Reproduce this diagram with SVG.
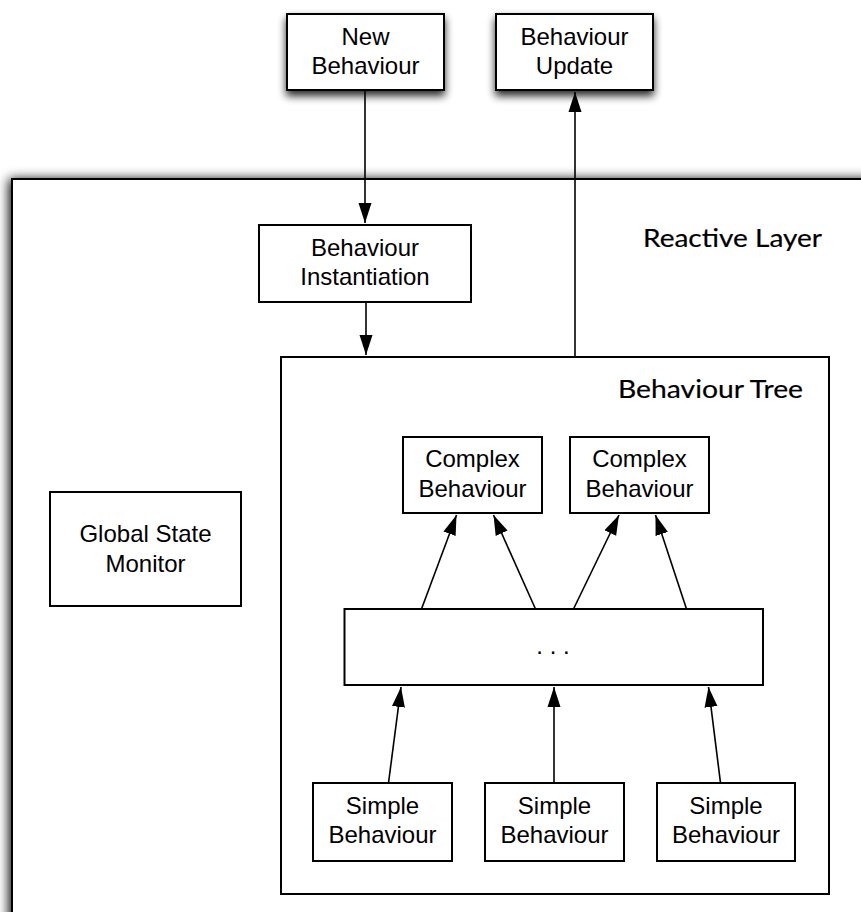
<svg xmlns="http://www.w3.org/2000/svg" width="861" height="912" viewBox="0 0 861 912">
  <style>
    .box { fill: #ffffff; stroke: #000000; stroke-width: 2; }
    .lbl { font-family: "Liberation Sans", Arial, sans-serif; font-size: 24px; fill: #000000; text-anchor: middle; }
    .title { font-family: Lato, "Open Sans", sans-serif; font-size: 25px; fill: #000000; stroke: #000000; stroke-width: 0.2; }
    .conn { stroke: #000000; stroke-width: 1.6; fill: none; marker-end: url(#arrow); }
  </style>
  <defs>
    <filter id="shadow" x="-20%" y="-20%" width="140%" height="160%">
      <feGaussianBlur in="SourceAlpha" stdDeviation="4.5"/>
      <feOffset dx="0" dy="5"/>
      <feComponentTransfer><feFuncA type="linear" slope="0.85"/></feComponentTransfer>
      <feMerge><feMergeNode/><feMergeNode in="SourceGraphic"/></feMerge>
    </filter>
    <filter id="shadow-wide" x="-5%" y="-5%" width="110%" height="110%">
      <feGaussianBlur in="SourceAlpha" stdDeviation="6"/>
      <feOffset dx="-2" dy="1"/>
      <feComponentTransfer><feFuncA type="linear" slope="1"/></feComponentTransfer>
      <feMerge><feMergeNode/><feMergeNode in="SourceGraphic"/></feMerge>
    </filter>
    <marker id="arrow" markerUnits="userSpaceOnUse" markerWidth="20" markerHeight="14" refX="20" refY="7" orient="auto">
      <path d="M0,0.5 L20,7 L0,13.5 z" fill="#000000"/>
    </marker>
  </defs>

  <rect width="861" height="912" fill="#ffffff"/>

  <!-- outer reactive layer container -->
  <g id="reactive-layer">
    <rect class="box" x="12" y="179" width="900" height="800" filter="url(#shadow-wide)"/>
    <text class="title" x="643" y="247" textLength="179" lengthAdjust="spacingAndGlyphs">Reactive Layer</text>
  </g>

  <!-- inputs / outputs above the layer -->
  <g id="new-behaviour">
    <rect class="box" x="287" y="14" width="157" height="76" filter="url(#shadow)"/>
    <text class="lbl" x="365.5" y="45">New</text>
    <text class="lbl" x="365.5" y="74">Behaviour</text>
  </g>
  <g id="behaviour-update">
    <rect class="box" x="496" y="14" width="157" height="76" filter="url(#shadow)"/>
    <text class="lbl" x="574.5" y="45">Behaviour</text>
    <text class="lbl" x="574.5" y="74">Update</text>
  </g>

  <g id="behaviour-instantiation">
    <rect class="box" x="259" y="225" width="212" height="77"/>
    <text class="lbl" x="365" y="256">Behaviour</text>
    <text class="lbl" x="365" y="285">Instantiation</text>
  </g>

  <g id="global-state-monitor">
    <rect class="box" x="50" y="492" width="191" height="114"/>
    <text class="lbl" x="145.5" y="542">Global State</text>
    <text class="lbl" x="145.5" y="572">Monitor</text>
  </g>

  <g id="behaviour-tree">
    <rect class="box" x="281" y="357" width="548" height="537"/>
    <text class="title" x="618" y="398" textLength="185" lengthAdjust="spacingAndGlyphs">Behaviour Tree</text>
  </g>

  <g id="complex-1">
    <rect class="box" x="403" y="437" width="139" height="76"/>
    <text class="lbl" x="472.5" y="467">Complex</text>
    <text class="lbl" x="472.5" y="497">Behaviour</text>
  </g>
  <g id="complex-2">
    <rect class="box" x="570" y="437" width="139" height="76"/>
    <text class="lbl" x="639.5" y="467">Complex</text>
    <text class="lbl" x="639.5" y="497">Behaviour</text>
  </g>

  <g id="intermediate">
    <rect class="box" x="344.5" y="609" width="418.5" height="76"/>
    <text class="lbl" x="553" y="654">. . .</text>
  </g>

  <g id="simple-1">
    <rect class="box" x="313" y="783" width="139" height="78"/>
    <text class="lbl" x="382.5" y="814">Simple</text>
    <text class="lbl" x="382.5" y="843">Behaviour</text>
  </g>
  <g id="simple-2">
    <rect class="box" x="485" y="783" width="139" height="78"/>
    <text class="lbl" x="554.5" y="814">Simple</text>
    <text class="lbl" x="554.5" y="843">Behaviour</text>
  </g>
  <g id="simple-3">
    <rect class="box" x="657" y="783" width="138" height="78"/>
    <text class="lbl" x="726" y="814">Simple</text>
    <text class="lbl" x="726" y="843">Behaviour</text>
  </g>

  <g id="connectors">
    <line class="conn" x1="365" y1="90" x2="365" y2="223"/>
    <line class="conn" x1="366" y1="302" x2="366" y2="355"/>
    <line class="conn" x1="575" y1="357" x2="575" y2="92"/>
    <line class="conn" x1="421.5" y1="609" x2="456.5" y2="515"/>
    <line class="conn" x1="535.5" y1="609" x2="493.5" y2="515"/>
    <line class="conn" x1="573.5" y1="609" x2="619" y2="515"/>
    <line class="conn" x1="686.5" y1="609" x2="655.5" y2="515"/>
    <line class="conn" x1="388.5" y1="783" x2="401" y2="687"/>
    <line class="conn" x1="554" y1="783" x2="554" y2="687"/>
    <line class="conn" x1="720.5" y1="783" x2="708.5" y2="687"/>
  </g>
</svg>
